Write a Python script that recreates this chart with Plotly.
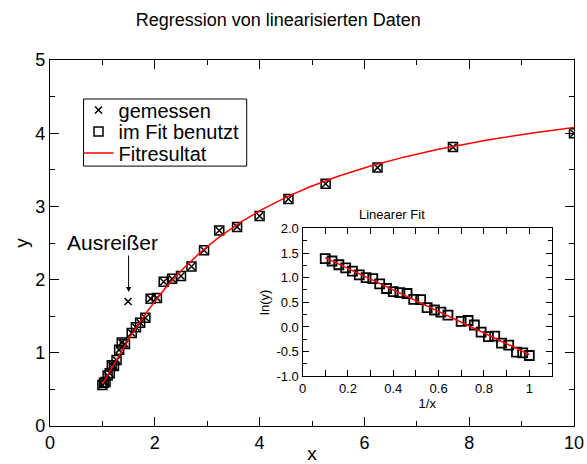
import numpy as np
import plotly.graph_objects as go

x_meas = [10.0, 7.69, 6.25, 5.26, 4.55, 4.0, 3.57, 3.23, 2.94, 2.70, 2.50, 2.33, 2.17, 2.04, 1.92,
          1.82, 1.72, 1.64, 1.56, 1.49, 1.43, 1.37, 1.32, 1.27, 1.22, 1.18, 1.14, 1.10, 1.06, 1.03, 1.00]
y_meas = [4.00, 3.81, 3.53, 3.31, 3.10, 2.87, 2.72, 2.67, 2.40, 2.18, 2.05, 2.01, 1.97, 1.75, 1.74,
          1.48, 1.41, 1.35, 1.27, 1.70, 1.12, 1.14, 1.04, 0.90, 0.82, 0.83, 0.72, 0.69, 0.60, 0.59, 0.56]
outlier_index = 19  # "Ausreißer", not used in fit

main_x_ticks = [0, 2, 4, 6, 8, 10]
main_y_ticks = [0, 1, 2, 3, 4, 5]
inset_x_tickvals = [0, 0.2, 0.4, 0.6, 0.8, 1.0]
inset_x_ticktext = ["0", "0.2", "0.4", "0.6", "0.8", "1"]
inset_y_tickvals = [-1.0, -0.5, 0.0, 0.5, 1.0, 1.5, 2.0]
inset_y_ticktext = ["-1.0", "-0.5", "0.0", "0.5", "1.0", "1.5", "2.0"]

x_fit = [v for i, v in enumerate(x_meas) if i != outlier_index]
y_fit = [v for i, v in enumerate(y_meas) if i != outlier_index]

# linearised data and regression
inv_x = 1.0 / np.array(x_fit)
ln_y = np.log(np.array(y_fit))
slope, intercept = np.polyfit(inv_x, ln_y, 1)

inv_line = np.array([inv_x.min(), inv_x.max()])
ln_line = intercept + slope * inv_line
x_curve = np.linspace(min(x_fit), max(x_fit), 300)
y_curve = np.exp(intercept + slope / x_curve)

FONT = "Liberation Sans, Arial, Helvetica, sans-serif"

fig = go.Figure()

fig.add_trace(go.Scatter(
    x=x_meas, y=y_meas, mode="markers", name="gemessen", legend="legend",
    marker=dict(symbol="x-thin", size=7, line=dict(width=1.5, color="black"), color="black")))
fig.add_trace(go.Scatter(
    x=x_fit, y=y_fit, mode="markers", name="im Fit benutzt", legend="legend2",
    marker=dict(symbol="square-open", size=9, line=dict(width=1.5), color="black")))
fig.add_trace(go.Scatter(
    x=x_curve, y=y_curve, mode="lines", name="Fitresultat", legend="legend3",
    line=dict(color="red", width=1.5)))

# inset
fig.add_trace(go.Scatter(
    x=inv_x, y=ln_y, mode="markers", showlegend=False, xaxis="x2", yaxis="y2",
    marker=dict(symbol="square-open", size=9, line=dict(width=1.8), color="black")))
fig.add_trace(go.Scatter(
    x=inv_line, y=ln_line, mode="lines", showlegend=False, xaxis="x2", yaxis="y2",
    line=dict(color="red", width=1.5)))

axis_common = dict(showgrid=False, zeroline=False, showline=True, linecolor="black",
                   linewidth=1.2, ticks="inside", mirror="ticks", tickcolor="black",
                   tickwidth=1.2, automargin=False)

legend_common = dict(x=0.0544, xanchor="left", yanchor="middle", borderwidth=0,
                     bgcolor="rgba(0,0,0,0)", font=dict(size=20, family=FONT))

fig.update_layout(
    width=587, height=464,
    margin=dict(l=50, r=13, t=60, b=38, autoexpand=False),
    paper_bgcolor="white", plot_bgcolor="white",
    font=dict(family=FONT, color="black"),
    title=dict(text="Regression von linearisierten Daten", x=0.474, xanchor="center",
               y=0.958, yanchor="middle", font=dict(size=18, family=FONT),
               automargin=False),
    xaxis=dict(axis_common, range=[0, 10], tickvals=main_x_ticks, ticklen=9,
               minor=dict(dtick=1, tick0=0, ticklen=5, ticks="inside", tickcolor="black"),
               tickfont=dict(size=18), domain=[0, 1],
               title=dict(text="x", font=dict(size=19), standoff=12)),
    yaxis=dict(axis_common, range=[0, 5], tickvals=main_y_ticks, ticklen=9,
               minor=dict(dtick=0.5, tick0=0, ticklen=5, ticks="inside", tickcolor="black"),
               tickfont=dict(size=18), domain=[0, 1],
               title=dict(text="y", font=dict(size=19), standoff=1)),
    xaxis2=dict(axis_common, anchor="y2", domain=[0.482, 0.958], range=[0, 1.1],
                tickvals=inset_x_tickvals, ticktext=inset_x_ticktext, ticklen=6,
                minor=dict(dtick=0.1, tick0=0, ticklen=6, ticks="inside", tickcolor="black"),
                tickfont=dict(size=13),
                title=dict(text="1/x", font=dict(size=13), standoff=0)),
    yaxis2=dict(axis_common, anchor="x2", domain=[0.136, 0.540], range=[-1, 2],
                tickvals=inset_y_tickvals, ticktext=inset_y_ticktext, ticklen=6,
                minor=dict(dtick=0.25, tick0=0, ticklen=4, ticks="inside", tickcolor="black"),
                tickfont=dict(size=13),
                title=dict(text="ln(y)", font=dict(size=13), standoff=3)),
    legend=dict(legend_common, y=0.8633),
    legend2=dict(legend_common, y=0.8045),
    legend3=dict(legend_common, y=0.7457),
    showlegend=True,
)

# legend frame
fig.add_shape(type="rect", xref="paper", yref="paper", x0=0.064, x1=0.3754,
              y0=0.7101, y1=0.8934, line=dict(color="black", width=1),
              fillcolor="white", layer="below")

fig.add_annotation(x=1.19, y=2.51, xref="x", yref="y", text="Ausreißer", showarrow=False,
                   font=dict(size=21, family=FONT))
fig.add_annotation(x=1.5, y=1.83, ax=1.5, ay=2.35, xref="x", yref="y", axref="x", ayref="y",
                   text="", showarrow=True, arrowhead=2, arrowsize=1, arrowwidth=1,
                   arrowcolor="black", standoff=0, startstandoff=0)
fig.add_annotation(x=0.72, y=0.579, xref="paper", yref="paper", text="Linearer Fit",
                   showarrow=False, font=dict(size=13, family=FONT))

fig.write_html("out.html", config={"displayModeBar": False},
               post_script="document.body.style.margin='0';document.body.style.overflow='hidden';")
